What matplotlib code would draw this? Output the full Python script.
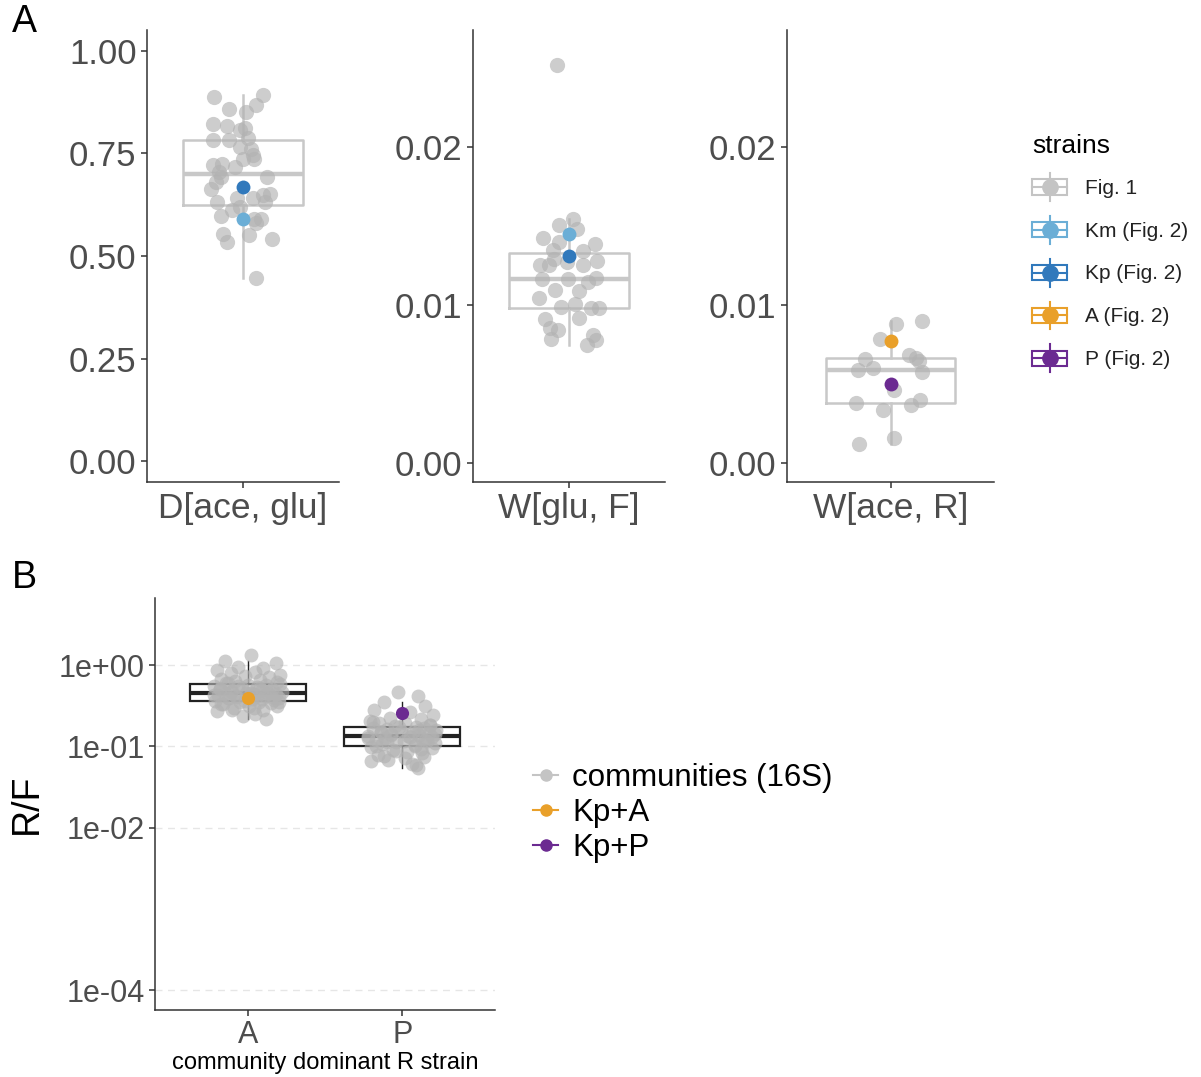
import matplotlib
matplotlib.use('Agg')
import matplotlib.pyplot as plt
import numpy as np
from matplotlib import cbook
from matplotlib.legend_handler import HandlerBase
from matplotlib.patches import Rectangle
from matplotlib.lines import Line2D
from matplotlib.ticker import NullLocator

plt.rcParams['font.family'] = ['Liberation Sans', 'DejaVu Sans']

# ---- panel A data: Fig. 1 communities (gray) + Fig. 2 strain estimates ----
d_ace_glu = [0.887, 0.891, 0.858, 0.867, 0.850, 0.822, 0.816, 0.806, 0.812, 0.788,
             0.782, 0.782, 0.765, 0.761, 0.745, 0.735, 0.737, 0.721, 0.725, 0.717,
             0.705, 0.692, 0.680, 0.664, 0.692, 0.632, 0.640, 0.640, 0.648, 0.650,
             0.632, 0.612, 0.598, 0.620, 0.591, 0.590, 0.581, 0.553, 0.533, 0.551,
             0.541, 0.446]
d_ace_glu_jit = [-0.18, 0.125, -0.09, 0.08, 0.02, -0.19, -0.10, -0.02, 0.01, 0.03,
                 -0.19, -0.09, -0.02, 0.05, 0.06, 0.07, 0.00, -0.19, -0.13, -0.05,
                 -0.15, -0.14, -0.17, -0.20, 0.15, -0.16, -0.04, 0.06, 0.125, 0.17,
                 0.135, -0.07, -0.14, -0.02, 0.07, 0.115, 0.08, -0.125, -0.10, 0.04,
                 0.18, 0.08]

w_glu_f = [0.02521, 0.01546, 0.01504, 0.01479, 0.01424, 0.01399, 0.01384, 0.01346, 0.01340, 0.01293,
           0.01255, 0.01278, 0.01251, 0.01251, 0.01272, 0.01163, 0.01163, 0.01173, 0.01146, 0.01093,
           0.01087, 0.01046, 0.00987, 0.01008, 0.00983, 0.00983, 0.00913, 0.00918, 0.00854, 0.00840,
           0.00787, 0.00808, 0.00777, 0.00745]
w_glu_f_jit = [-0.075, 0.025, -0.06, 0.05, -0.165, -0.06, 0.16, -0.10, 0.085, -0.095,
               -0.18, 0.175, -0.125, 0.09, -0.015, -0.17, -0.005, 0.17, 0.12, -0.09,
               0.06, -0.19, -0.05, 0.035, 0.14, 0.19, -0.15, 0.06, -0.12, -0.07,
               -0.11, 0.15, 0.17, 0.11]

w_ace_r = [0.00882, 0.00899, 0.00783, 0.00660, 0.00682, 0.00665, 0.00644, 0.00587, 0.00601,
           0.00576, 0.00460, 0.00380, 0.00333, 0.00369, 0.00397, 0.00158, 0.00122]
w_ace_r_jit = [0.03, 0.18, -0.06, -0.15, 0.105, 0.145, 0.165, -0.19, -0.10,
               0.18, 0.02, -0.20, -0.045, 0.12, 0.17, 0.02, -0.18]

strain_names = ['Fig. 1', 'Km (Fig. 2)', 'Kp (Fig. 2)', 'A (Fig. 2)', 'P (Fig. 2)']
strain_colors = ['#C4C4C4', '#6BAED6', '#3179BC', '#E9A02A', '#6B2A91']

# Fig. 2 strain values per parameter: (strain index, value)
d_ace_glu_strains = [(2, 0.668), (1, 0.591)]
w_glu_f_strains = [(1, 0.01451), (2, 0.01308)]
w_ace_r_strains = [(3, 0.00772), (4, 0.00502)]

param_labels = ['D[ace, glu]', 'W[glu, F]', 'W[ace, R]']

# ---- panel B data: R/F ratios ----
rf_categories = ['A', 'P']
rf_A = [1.32, 1.12, 1.07, 0.955, 0.912, 0.871, 0.832, 0.794, 0.759, 0.724,
        0.708, 0.676, 0.661, 0.631, 0.617, 0.603, 0.575, 0.562, 0.550, 0.537,
        0.525, 0.513, 0.501, 0.490, 0.479, 0.468, 0.457, 0.447, 0.447, 0.437,
        0.427, 0.417, 0.407, 0.398, 0.389, 0.380, 0.372, 0.363, 0.355, 0.347,
        0.339, 0.331, 0.316, 0.309, 0.295, 0.282, 0.269, 0.251, 0.234, 0.219,
        0.600, 0.580, 0.550, 0.520, 0.500, 0.480, 0.460, 0.450, 0.440, 0.430,
        0.420, 0.410, 0.400, 0.390, 0.380, 0.360, 0.350, 0.330, 0.300, 0.280]
rf_A_jit = [0.02, -0.15, 0.18, -0.06, 0.10, -0.20, 0.05, -0.11, 0.21, -0.02,
            0.14, -0.17, 0.08, -0.08, 0.19, -0.13, 0.00, 0.12, -0.22, 0.06,
            -0.04, 0.16, -0.18, 0.09, -0.10, 0.22, -0.01, 0.13, -0.15, 0.04,
            -0.19, 0.11, -0.07, 0.20, -0.12, 0.03, 0.17, -0.21, 0.07, -0.05,
            0.15, -0.16, 0.01, 0.19, -0.09, 0.10, -0.20, 0.05, -0.03, 0.12,
            -0.14, 0.21, -0.06, 0.08, -0.18, 0.14, -0.11, 0.02, 0.18, -0.22,
            0.06, -0.08, 0.16, -0.13, 0.09, -0.02, 0.20, -0.17, 0.04, -0.10]
rf_P = [0.468, 0.417, 0.355, 0.316, 0.282, 0.263, 0.240, 0.224, 0.214, 0.204,
        0.195, 0.191, 0.182, 0.178, 0.174, 0.170, 0.166, 0.162, 0.158, 0.155,
        0.151, 0.148, 0.145, 0.141, 0.138, 0.135, 0.132, 0.129, 0.126, 0.123,
        0.120, 0.117, 0.115, 0.112, 0.110, 0.107, 0.102, 0.098, 0.093, 0.089,
        0.085, 0.079, 0.074, 0.068, 0.060, 0.054,
        0.200, 0.185, 0.172, 0.160, 0.150, 0.143, 0.136, 0.130, 0.125, 0.118,
        0.113, 0.105, 0.100, 0.095, 0.087, 0.082, 0.076, 0.071, 0.065, 0.058]
rf_P_jit = [-0.03, 0.10, -0.12, 0.15, -0.18, 0.05, 0.20, -0.08, 0.12, -0.21,
            0.02, -0.15, 0.18, -0.05, 0.09, -0.19, 0.14, -0.10, 0.22, -0.01,
            0.07, -0.14, 0.17, -0.07, 0.11, -0.22, 0.04, 0.19, -0.11, 0.13,
            -0.17, 0.01, 0.16, -0.04, 0.21, -0.13, 0.08, -0.20, 0.12, -0.06,
            0.03, -0.16, 0.14, -0.09, 0.06, 0.10,
            -0.19, 0.18, -0.02, 0.11, -0.14, 0.21, -0.07, 0.05, -0.22, 0.15,
            -0.10, 0.08, -0.17, 0.19, -0.04, 0.13, -0.12, 0.02, -0.20, 0.09]
rf_kpA = 0.39
rf_kpP = 0.254
rf_legend = ['communities (16S)', 'Kp+A', 'Kp+P']
rf_legend_colors = ['#C4C4C4', '#E9A02A', '#6B2A91']
rf_ticks = [1e0, 1e-1, 1e-2, 1e-4]
rf_tick_labels = ['1e+00', '1e-01', '1e-02', '1e-04']

GRAY_PT = '#B2B2B2'
BOX_GRAY = '#C8C8C8'
TICK_COL = '#4D4D4D'
AX_COL = '#333333'

W, H = 1201, 1077
fig = plt.figure(figsize=(W / 100, H / 100), dpi=100)


def style(ax):
    for s in ['top', 'right']:
        ax.spines[s].set_visible(False)
    for s in ['left', 'bottom']:
        ax.spines[s].set_color(AX_COL)
        ax.spines[s].set_linewidth(1.1)
    ax.tick_params(colors=AX_COL, labelcolor=TICK_COL, length=4, width=1.1)


class BoxPointHandler(HandlerBase):
    # ggplot-style legend key: small boxplot with a point on top
    def create_artists(self, legend, orig_handle, xdescent, ydescent,
                       width, height, fontsize, trans):
        c = orig_handle.get_color()
        x0, y0 = -xdescent, -ydescent
        cx, cy = x0 + width / 2, y0 + height / 2
        bh = height * 0.55
        box = Rectangle((x0, cy - bh / 2), width, bh, facecolor='white',
                        edgecolor=c, lw=1.5, transform=trans)
        med = Line2D([x0, x0 + width], [cy, cy], color=c, lw=1.5, transform=trans)
        wl = Line2D([cx, cx], [y0, cy - bh / 2], color=c, lw=1.5, transform=trans)
        wu = Line2D([cx, cx], [cy + bh / 2, y0 + height], color=c, lw=1.5, transform=trans)
        pt = Line2D([cx], [cy], marker='o', ms=11, color=c, ls='none', transform=trans)
        return [box, med, wl, wu, pt]


# ---------------- panel A ----------------
panels = [
    ([147, 30, 192, 452], d_ace_glu, d_ace_glu_jit, d_ace_glu_strains, (-0.05, 1.05),
     [0, 0.25, 0.5, 0.75, 1.0], ['0.00', '0.25', '0.50', '0.75', '1.00']),
    ([473, 30, 192, 452], w_glu_f, w_glu_f_jit, w_glu_f_strains, (-0.0012, 0.0274),
     [0, 0.01, 0.02], ['0.00', '0.01', '0.02']),
    ([787, 30, 207, 452], w_ace_r, w_ace_r_jit, w_ace_r_strains, (-0.0012, 0.0274),
     [0, 0.01, 0.02], ['0.00', '0.01', '0.02']),
]

for (rect, vals, jit, strains, ylim, yt, ytl), lab in zip(panels, param_labels):
    l, t, w, h = rect
    ax = fig.add_axes([l / W, 1 - (t + h) / H, w / W, h / H])
    ax.boxplot(vals, positions=[0], widths=0.75, showfliers=False, showcaps=False,
               boxprops=dict(color=BOX_GRAY, lw=1.8),
               whiskerprops=dict(color=BOX_GRAY, lw=1.8),
               medianprops=dict(color=BOX_GRAY, lw=3.2), zorder=1)
    ax.scatter(jit, vals, s=120, color=GRAY_PT, alpha=0.65, linewidths=0, zorder=2)
    for si, v in strains:
        ax.scatter([0], [v], s=100, color=strain_colors[si], linewidths=0, zorder=3)
    ax.set_xlim(-0.6, 0.6)
    ax.set_ylim(*ylim)
    ax.set_yticks(yt)
    ax.set_yticklabels(ytl, fontsize=25)
    ax.set_xticks([0])
    ax.set_xticklabels([lab], fontsize=25.5)
    style(ax)

handles_A = [Line2D([], [], color=c) for c in strain_colors]
legA = fig.legend(handles_A, strain_names, loc='upper left',
                  bbox_to_anchor=(1032 / W, 1 - 134 / H), frameon=False,
                  fontsize=15, title='strains', title_fontsize=19,
                  handler_map={Line2D: BoxPointHandler()},
                  handlelength=1.68, handleheight=1.68, labelspacing=0.72,
                  handletextpad=0.85, borderpad=0, borderaxespad=0, alignment='left')
for txt in legA.get_texts():
    txt.set_color('#222222')

# ---------------- panel B ----------------
axB = fig.add_axes([155 / W, 1 - 1010 / H, 340 / W, 412 / H])
axB.set_yscale('log')
pos = [1, 2]
stats = []
for vals in [rf_A, rf_P]:
    st = cbook.boxplot_stats(np.log10(vals))[0]
    for k in ['med', 'q1', 'q3', 'whislo', 'whishi']:
        st[k] = 10 ** st[k]
    st['fliers'] = []
    stats.append(st)
axB.bxp(stats, positions=pos, widths=0.75, showfliers=False, showcaps=False,
        patch_artist=True,
        boxprops=dict(facecolor='white', edgecolor='#222222', lw=1.6),
        whiskerprops=dict(color='#222222', lw=1.0),
        medianprops=dict(color='#222222', lw=3.0), zorder=1)
axB.scatter(np.add(pos[0], rf_A_jit), rf_A, s=100, color=GRAY_PT, alpha=0.65,
            linewidths=0, zorder=2)
axB.scatter(np.add(pos[1], rf_P_jit), rf_P, s=100, color=GRAY_PT, alpha=0.65,
            linewidths=0, zorder=2)
axB.scatter([pos[0]], [rf_kpA], s=90, color=rf_legend_colors[1], linewidths=0, zorder=3)
axB.scatter([pos[1]], [rf_kpP], s=90, color=rf_legend_colors[2], linewidths=0, zorder=3)
axB.set_xlim(0.4, 2.6)
axB.set_ylim(10 ** -4.246, 10 ** 0.825)
axB.set_yticks(rf_ticks)
axB.set_yticklabels(rf_tick_labels, fontsize=22)
axB.yaxis.set_minor_locator(NullLocator())
axB.set_xticks(pos)
axB.set_xticklabels(rf_categories, fontsize=22)
axB.set_xlabel('community dominant R strain', fontsize=17, labelpad=1)
axB.set_ylabel('R/F', fontsize=27, labelpad=10)
axB.yaxis.grid(True, color='#E6E6E6', ls=(0, (5, 4)), lw=1.0)
axB.set_axisbelow(True)
style(axB)

handles_B = [Line2D([], [], color=c, marker='o', ms=8, lw=1.5) for c in rf_legend_colors]
fig.legend(handles_B, rf_legend, loc='upper left',
           bbox_to_anchor=(533 / W, 1 - 763 / H), frameon=False, fontsize=22.5,
           handlelength=0.8, handletextpad=0.45, labelspacing=0.16,
           borderpad=0, borderaxespad=0)

fig.text(12 / W, 1 - 22 / H, 'A', fontsize=27, va='center', ha='left')
fig.text(12 / W, 1 - 578 / H, 'B', fontsize=27, va='center', ha='left')

fig.savefig('out.png', dpi=100)
